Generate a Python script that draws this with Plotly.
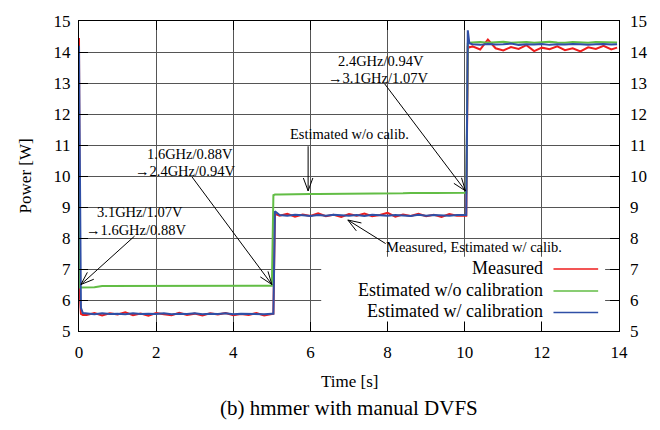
import math
import plotly.graph_objects as go

# ---------------- data ----------------
TIME = [0.0, 0.02, 0.05, 0.1,
        0.2, 0.4, 0.6, 0.8, 1.0, 1.2, 1.4, 1.6, 1.8, 2.0, 2.2, 2.4, 2.6, 2.8, 3.0,
        3.2, 3.4, 3.6, 3.8, 4.0, 4.2, 4.4, 4.6, 4.8, 5.0,
        5.04, 5.08,
        5.2, 5.4, 5.6, 5.8, 6.0, 6.2, 6.4, 6.6, 6.8, 7.0, 7.2, 7.4, 7.6, 7.8, 8.0,
        8.2, 8.4, 8.6, 8.8, 9.0, 9.2, 9.4, 9.6, 9.8, 10.0,
        10.04, 10.08, 10.12,
        10.2, 10.4, 10.6, 10.8, 11.0, 11.2, 11.4, 11.6, 11.8, 12.0, 12.2, 12.4,
        12.6, 12.8, 13.0, 13.2, 13.4, 13.6, 13.8, 13.95]

MEASURED = [14.45, 6.2, 5.55, 5.52,
            5.52, 5.58, 5.50, 5.57, 5.53, 5.60, 5.51, 5.56, 5.49, 5.58, 5.54, 5.51, 5.59,
            5.52, 5.56, 5.50, 5.57, 5.53, 5.58, 5.51, 5.55, 5.52, 5.58, 5.50, 5.55,
            5.56, 8.78,
            8.72, 8.78, 8.69, 8.76, 8.71, 8.80, 8.70, 8.75, 8.68, 8.77, 8.72, 8.79, 8.70,
            8.74, 8.81, 8.69, 8.76, 8.71, 8.78, 8.70, 8.75, 8.68, 8.77, 8.72, 8.74,
            8.72, 14.20, 14.15,
            14.18, 14.08, 14.40, 14.12, 14.05, 14.16, 14.10, 14.22, 14.03, 14.14, 14.09,
            14.18, 14.06, 14.12, 14.02, 14.15, 14.10, 14.20, 14.08, 14.14]

EST_NO_CALIB = [9.70, 6.40, 6.40, 6.40,
                6.40, 6.41, 6.45, 6.45, 6.46, 6.45, 6.45, 6.46, 6.45, 6.45, 6.46, 6.45,
                6.45, 6.46, 6.45, 6.45, 6.46, 6.45, 6.45, 6.46, 6.45, 6.45, 6.46, 6.45, 6.46,
                9.38, 9.40,
                9.40, 9.41, 9.41, 9.41, 9.42, 9.42, 9.42, 9.43, 9.42, 9.43, 9.43, 9.43, 9.44,
                9.43, 9.44, 9.44, 9.44, 9.45, 9.44, 9.45, 9.45, 9.45, 9.46, 9.45, 9.46,
                9.46, 14.28, 14.30,
                14.31, 14.32, 14.30, 14.31, 14.33, 14.30, 14.31, 14.32, 14.30, 14.31, 14.33,
                14.31, 14.30, 14.32, 14.31, 14.30, 14.32, 14.31, 14.30, 14.31]

EST_CALIB = [14.20, 9.80, 5.75, 5.58,
             5.56, 5.54, 5.57, 5.55, 5.56, 5.54, 5.57, 5.55, 5.56, 5.55, 5.57, 5.54, 5.56,
             5.55, 5.57, 5.54, 5.56, 5.55, 5.57, 5.54, 5.56, 5.55, 5.56, 5.54, 5.56,
             5.56, 8.86,
             8.74, 8.72, 8.75, 8.73, 8.71, 8.74, 8.72, 8.75, 8.73, 8.72, 8.74, 8.71, 8.75,
             8.73, 8.72, 8.74, 8.73, 8.71, 8.75, 8.72, 8.74, 8.73, 8.72, 8.74, 8.73,
             8.74, 14.70, 14.28,
             14.25, 14.23, 14.26, 14.24, 14.25, 14.27, 14.23, 14.25, 14.24, 14.26, 14.23,
             14.25, 14.24, 14.26, 14.25, 14.23, 14.25, 14.26, 14.24, 14.25]

SERIES_NAMES = ["Measured", "Estimated w/o calibration", "Estimated w/ calibration"]
SERIES_COLORS = ["#ee1c1c", "#62bd45", "#2f4fa6"]

X_TICKS = [0, 2, 4, 6, 8, 10, 12, 14]
Y_TICKS = [5, 6, 7, 8, 9, 10, 11, 12, 13, 14, 15]

# annotation texts: (text, x, y)
LABELS = [
    ("3.1GHz/1.07V", 1.57, 8.83),
    ("\u21921.6GHz/0.88V", 1.47, 8.27),
    ("1.6GHz/0.88V", 2.87, 10.71),
    ("\u21922.4GHz/0.94V", 2.75, 10.17),
    ("2.4GHz/0.94V", 7.84, 13.70),
    ("\u21923.1GHz/1.07V", 7.75, 13.17),
    ("Estimated w/o calib.", 7.00, 11.34),
    ("Measured, Estimated w/ calib.", 10.24, 7.71),
]
# arrows: (tail_x, tail_y, head_x, head_y)
ARROWS = [
    (1.44, 8.06, 0.05, 6.50),
    (2.93, 9.97, 5.00, 6.50),
    (7.92, 12.98, 10.02, 9.52),
    (5.94, 10.96, 5.94, 9.52),
    (7.95, 7.82, 6.97, 8.58),
]

# ---------------- layout constants ----------------
W, H = 660, 430
ML, MR, MT, MB = 79, 37, 14, 99
PW, PH = W - ML - MR, H - MT - MB
XR, YR = [0, 14], [5, 15]
KX = PW / (XR[1] - XR[0])
KY = PH / (YR[1] - YR[0])
FONT = "Liberation Serif, Times New Roman, serif"

fig = go.Figure()
for name, ys, col in zip(SERIES_NAMES, [MEASURED, EST_NO_CALIB, EST_CALIB], SERIES_COLORS):
    fig.add_trace(go.Scatter(x=TIME, y=ys, mode="lines", name=name,
                             line=dict(color=col, width=2), showlegend=False,
                             hoverinfo="skip"))
# dummy trace for the right axis
fig.add_trace(go.Scatter(x=[None], y=[None], yaxis="y2", showlegend=False, hoverinfo="skip"))

shapes = []
# arrows with open V heads
HEAD_LEN, HEAD_ANG = 14, math.radians(20)
for tx, ty, hx, hy in ARROWS:
    shapes.append(dict(type="line", xref="x", yref="y", x0=tx, y0=ty, x1=hx, y1=hy,
                       line=dict(color="black", width=1), layer="above"))
    dx, dy = (tx - hx) * KX, (ty - hy) * KY
    L = math.hypot(dx, dy)
    ux, uy = dx / L, dy / L
    for s in (1, -1):
        c, sn = math.cos(s * HEAD_ANG), math.sin(s * HEAD_ANG)
        ax = (ux * c - uy * sn) * HEAD_LEN
        ay = (ux * sn + uy * c) * HEAD_LEN
        shapes.append(dict(type="line", xref="x", yref="y", x0=hx, y0=hy,
                           x1=hx + ax / KX, y1=hy + ay / KY,
                           line=dict(color="black", width=1), layer="above"))

# custom legend (text right-aligned, sample on the right)
def px2paper(px, py):
    return (px - ML) / PW, (H - MB - py) / PH

bx0, by0 = px2paper(323, 321)
bx1, by1 = px2paper(609, 255)
shapes.append(dict(type="rect", xref="paper", yref="paper", x0=bx0, y0=by0, x1=bx1, y1=by1,
                   fillcolor="white", line=dict(width=0), layer="above"))
annotations = []
LEG_ROWS = [266.5, 289, 311]
for name, col, py in zip(SERIES_NAMES, SERIES_COLORS, LEG_ROWS):
    tx, ty = px2paper(548, py)
    annotations.append(dict(xref="paper", yref="paper", x=tx, y=ty, text=name,
                            showarrow=False, xanchor="right", yanchor="middle",
                            font=dict(family=FONT, size=18, color="black")))
    lx0, ly = px2paper(557, py + 1)
    lx1, _ = px2paper(602, py + 1)
    shapes.append(dict(type="line", xref="paper", yref="paper", x0=lx0, x1=lx1, y0=ly, y1=ly,
                       line=dict(color=col, width=1.5), layer="above"))

for text, x, y in LABELS:
    annotations.append(dict(xref="x", yref="y", x=x, y=y, text=text, showarrow=False,
                            xanchor="center", yanchor="middle",
                            font=dict(family=FONT, size=14.5, color="black")))

# axis titles & caption
annotations.append(dict(xref="paper", yref="paper", x=0.5, y=-(383 - (H - MB)) / PH,
                        text="Time [s]", showarrow=False, xanchor="center", yanchor="middle",
                        font=dict(family=FONT, size=17, color="black")))
annotations.append(dict(xref="paper", yref="paper", x=0.5, y=-(410 - (H - MB)) / PH,
                        text="(b) hmmer with manual DVFS", showarrow=False,
                        xanchor="center", yanchor="middle",
                        font=dict(family=FONT, size=21, color="black")))
annotations.append(dict(xref="paper", yref="paper", x=-(ML - 25) / PW, y=0.5,
                        text="Power [W]", showarrow=False, textangle=-90,
                        xanchor="center", yanchor="middle",
                        font=dict(family=FONT, size=17, color="black")))

axis_common = dict(showline=True, linecolor="black", linewidth=1, ticks="inside",
                   ticklen=9, tickcolor="black", zeroline=False,
                   gridcolor="#555555", gridwidth=1,
                   tickfont=dict(family=FONT, size=17, color="black"))

fig.update_layout(
    width=W, height=H, autosize=False,
    margin=dict(l=ML, r=MR, t=MT, b=MB),
    paper_bgcolor="white", plot_bgcolor="white",
    showlegend=False,
    xaxis=dict(range=XR, tickvals=X_TICKS, mirror="ticks", showgrid=True,
               ticklabelstandoff=6, **axis_common),
    yaxis=dict(range=YR, tickvals=Y_TICKS, mirror="ticks", showgrid=True,
               ticklabelstandoff=4, **axis_common),
    yaxis2=dict(range=YR, tickvals=Y_TICKS, overlaying="y", side="right",
                showgrid=False, showline=False, ticks="", zeroline=False,
                ticklabelstandoff=10,
                tickfont=dict(family=FONT, size=17, color="black")),
    shapes=shapes,
    annotations=annotations,
)

fig.write_html("out.html", config={"displayModeBar": False},
               post_script="document.body.style.margin='0';")
